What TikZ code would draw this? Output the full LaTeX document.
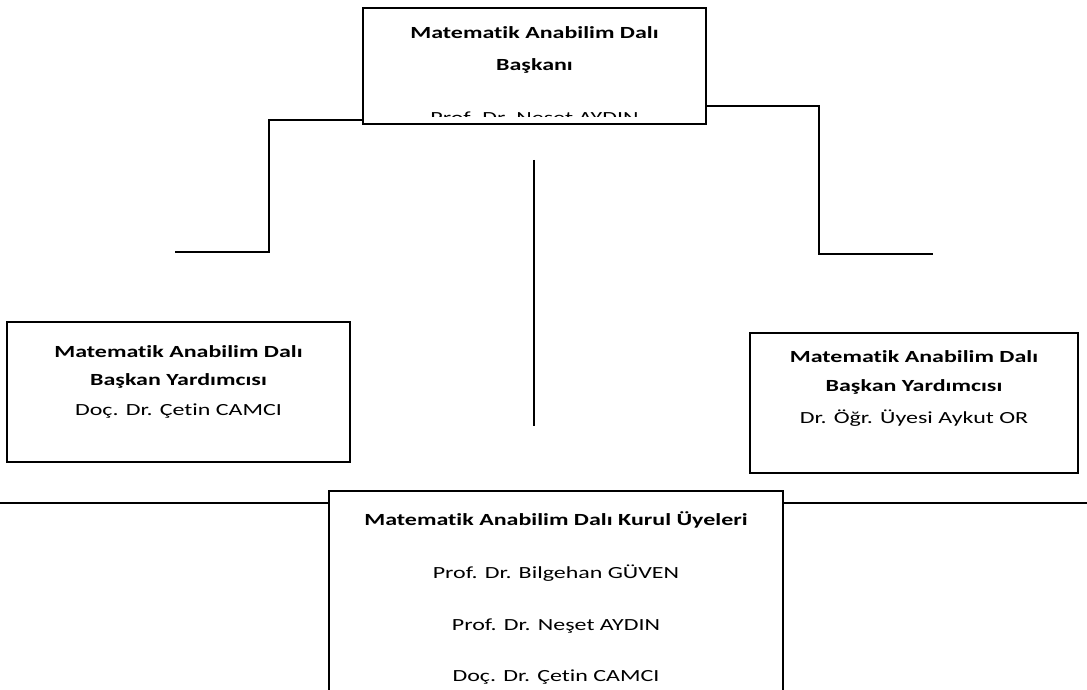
\documentclass[tikz,border=0pt]{standalone}
\usepackage{fontspec}
\setmainfont{Carlito}[FakeStretch=1.41,Ligatures={NoCommon}]
\begin{document}
\begin{tikzpicture}[x=1pt,y=-1pt,
  box/.style={draw=black,line width=1.3pt,inner sep=0pt,fill=none},
  lbl/.style={inner sep=0pt,anchor=center,font=\fontsize{17}{20}\selectfont},
  blbl/.style={lbl,font=\fontsize{17}{20}\selectfont\bfseries},
  conn/.style={draw=black,line width=1.3pt}]
\useasboundingbox (0,0) rectangle (1087,690);
% top box
\node[box,minimum width=343pt,minimum height=116pt] (top) at (534.5,66) {};
\node[blbl] (t1) at (534.5,33) {Matematik Anabilim Dalı};
\node[blbl] (t2) at (534.5,66) {Başkanı};
\begin{scope}
\clip (top.north west) rectangle ([yshift=8pt]top.south east);
\node[lbl,anchor=base] (t3) at (534.5,124) {Prof. Dr. Neşet AYDIN};
\end{scope}
% left box
\node[box,minimum width=343pt,minimum height=140pt] (left) at (178.5,392) {};
\node[blbl] (l1) at (178.5,352) {Matematik Anabilim Dalı};
\node[blbl] (l2) at (178.5,381) {Başkan Yardımcısı};
\node[lbl] (l3) at (178.5,411) {Doç. Dr. Çetin CAMCI};
% right box
\node[box,minimum width=328pt,minimum height=140pt] (right) at (914,403) {};
\node[blbl] (r1) at (914,357) {Matematik Anabilim Dalı};
\node[blbl] (r2) at (914,387) {Başkan Yardımcısı};
\node[lbl] (r3) at (914,418) {Dr. Öğr. Üyesi Aykut OR};
% bottom box
\node[box,minimum width=454pt,minimum height=220pt] (bot) at (556,601) {};
\node[blbl] (b1) at (556,520) {Matematik Anabilim Dalı Kurul Üyeleri};
\node[lbl] (b2) at (556,573) {Prof. Dr. Bilgehan GÜVEN};
\node[lbl] (b3) at (556,626) {Prof. Dr. Neşet AYDIN};
\node[lbl] (b4) at (556,677) {Doç. Dr. Çetin CAMCI};
% connectors
\coordinate (lend) at (175,252);
\coordinate (rend) at (933,254);
\coordinate (ctop) at (534,160);
\coordinate (cbot) at (534,426);
\coordinate (hl) at (0,503);
\coordinate (hr) at (1087,503);
\draw[conn] (top.west |- 0,120) -- (269,120) -- (269,252) -- (lend);
\draw[conn] (top.east |- 0,106) -- (819,106) -- (819,254) -- (rend);
\draw[conn] (ctop) -- (cbot);
\draw[conn] (hl) -- (bot.west |- hl);
\draw[conn] (bot.east |- hr) -- (hr);
\end{tikzpicture}
\end{document}
